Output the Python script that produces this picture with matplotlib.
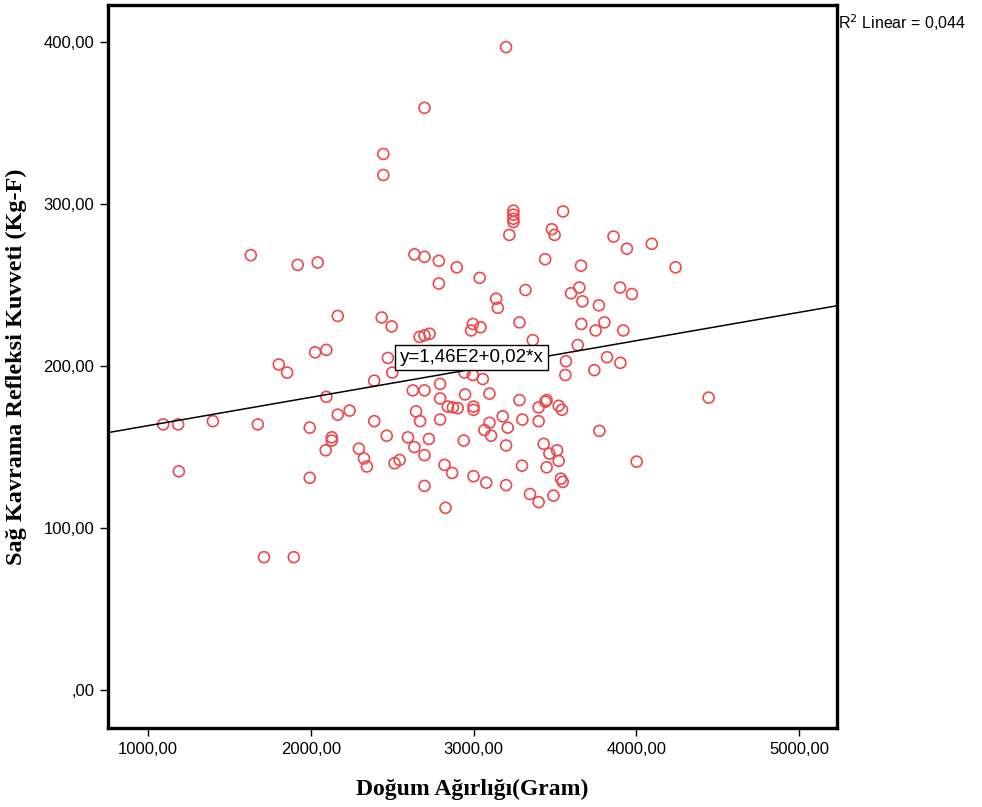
import matplotlib.pyplot as plt
from matplotlib.ticker import FuncFormatter

# birth weight (g) vs right hand grip reflex force (kg-F)
birth_weight = [
    1094, 1186, 1190, 1399, 1632, 1675, 1713, 1804, 1855, 1896,
    1920, 1994, 1994, 2027, 2043, 2096, 2096, 2092, 2129, 2129,
    2166, 2166, 2239, 2296, 2327, 2345, 2390, 2390, 2436, 2446,
    2446, 2474, 2497, 2501, 2467, 2515, 2546, 2597, 2627, 2637,
    2637, 2647, 2669, 2672, 2699, 2699, 2699, 2699, 2699, 2699,
    2726, 2730, 2787, 2787, 2795, 2795, 2795, 2822, 2828, 2842,
    2869, 2873, 2897, 2903, 2940, 2945, 2948, 2985, 2996, 2996,
    3000, 3000, 3000, 3038, 3043, 3057, 3067, 3078, 3098, 3098,
    3108, 3139, 3149, 3179, 3200, 3200, 3200, 3210, 3220, 3245,
    3245, 3245, 3245, 3282, 3282, 3300, 3298, 3319, 3347, 3364,
    3400, 3400, 3400, 3431, 3440, 3441, 3449, 3449, 3466, 3481,
    3491, 3498, 3513, 3523, 3523, 3537, 3543, 3548, 3550, 3568,
    3564, 3599, 3640, 3650, 3660, 3662, 3669, 3742, 3750, 3770,
    3773, 3804, 3820, 3860, 3900, 3902, 3920, 3942, 3973, 4002,
    4095, 4241, 4444,
]
grip_force = [
    164, 164, 135, 166, 268.5, 164, 82, 201, 196, 82,
    262.5, 162, 131, 208.5, 264, 210, 181, 148, 156, 154,
    231, 170, 172.5, 149, 143, 138, 191, 166, 230, 331,
    318, 205, 224.5, 196, 157, 140, 142, 156, 185, 269,
    150, 172, 218, 166, 359.5, 267.5, 219, 185, 145, 126,
    155, 220, 265, 251, 189, 180, 167, 139, 112.5, 175,
    134, 174.5, 261, 174, 154, 196, 182.5, 222, 226, 194.5,
    175, 173, 132, 254.5, 224, 192, 160.5, 128, 183, 165,
    157, 241.6, 236, 169, 397, 151, 126.5, 162, 281, 296,
    293.5, 291, 289, 227, 179, 167, 138.5, 247, 121, 216,
    174.5, 166, 116, 152, 266, 178, 179, 137.5, 146, 284.5,
    120, 281, 148, 175.5, 141.5, 130.5, 173, 128.5, 295.5, 203,
    194.5, 245, 213, 248.5, 262, 226, 240, 197.5, 222, 237.5,
    160, 227, 205.5, 280, 248.5, 202, 222, 272.5, 244.5, 141,
    275.5, 261, 180.5,
]

# fitted line  y = 1.46E2 + 0.02*x  (unrounded coefficients)
fit_intercept = 145.7
fit_slope = 0.0175
r_squared = 0.044

x_ticks = [1000, 2000, 3000, 4000, 5000]
y_ticks = [0, 100, 200, 300, 400]
x_lim = (755, 5233)
y_lim = (-23.5, 423)


def comma_fmt(v, pos=None):
    s = "%.2f" % v
    if s.startswith("0."):
        s = s[1:]
    return s.replace(".", ",")


tick_font = ["Liberation Sans Narrow", "Liberation Sans", "DejaVu Sans"]
label_font = ["Liberation Serif", "DejaVu Serif"]

fig = plt.figure(figsize=(9.82, 8.07), dpi=100)
ax = fig.add_axes([0.110, 0.0979, 0.7424, 0.8959])

ax.scatter(birth_weight, grip_force, s=62, facecolors="none",
           edgecolors="#f0474b", linewidths=1.2, zorder=2)

xs = list(x_lim)
ax.plot(xs, [fit_intercept + fit_slope * x for x in xs],
        color="black", linewidth=1.1, zorder=3)

ax.text(2988, 205.5, "y=1,46E2+0,02*x", fontsize=13.5, family=tick_font[1:],
        ha="center", va="center", zorder=4,
        bbox=dict(boxstyle="square,pad=0.22", facecolor="white",
                  edgecolor="black", linewidth=1.0))

ax.set_xlim(*x_lim)
ax.set_ylim(*y_lim)
ax.set_xticks(x_ticks)
ax.set_yticks(y_ticks)
ax.xaxis.set_major_formatter(FuncFormatter(comma_fmt))
ax.yaxis.set_major_formatter(FuncFormatter(comma_fmt))
ax.tick_params(direction="out", length=6, width=1, labelsize=12, pad=4)
for lbl in ax.get_xticklabels() + ax.get_yticklabels():
    lbl.set_family(tick_font)

for sp in ax.spines.values():
    sp.set_linewidth(2.4)

ax.set_xlabel("Doğum Ağırlığı(Gram)", fontsize=17, fontweight="bold",
              family=label_font, labelpad=16)
ax.set_ylabel("Sağ Kavrama Refleksi Kuvveti (Kg-F)", fontsize=17.5,
              fontweight="bold", family=label_font, labelpad=12)

fig.text(0.853, 0.972, "R$^2$ Linear = %s" % ("%.3f" % r_squared).replace(".", ","),
         fontsize=11.5, family=tick_font[1:], ha="left", va="center")

fig.savefig("out.png", dpi=100)
